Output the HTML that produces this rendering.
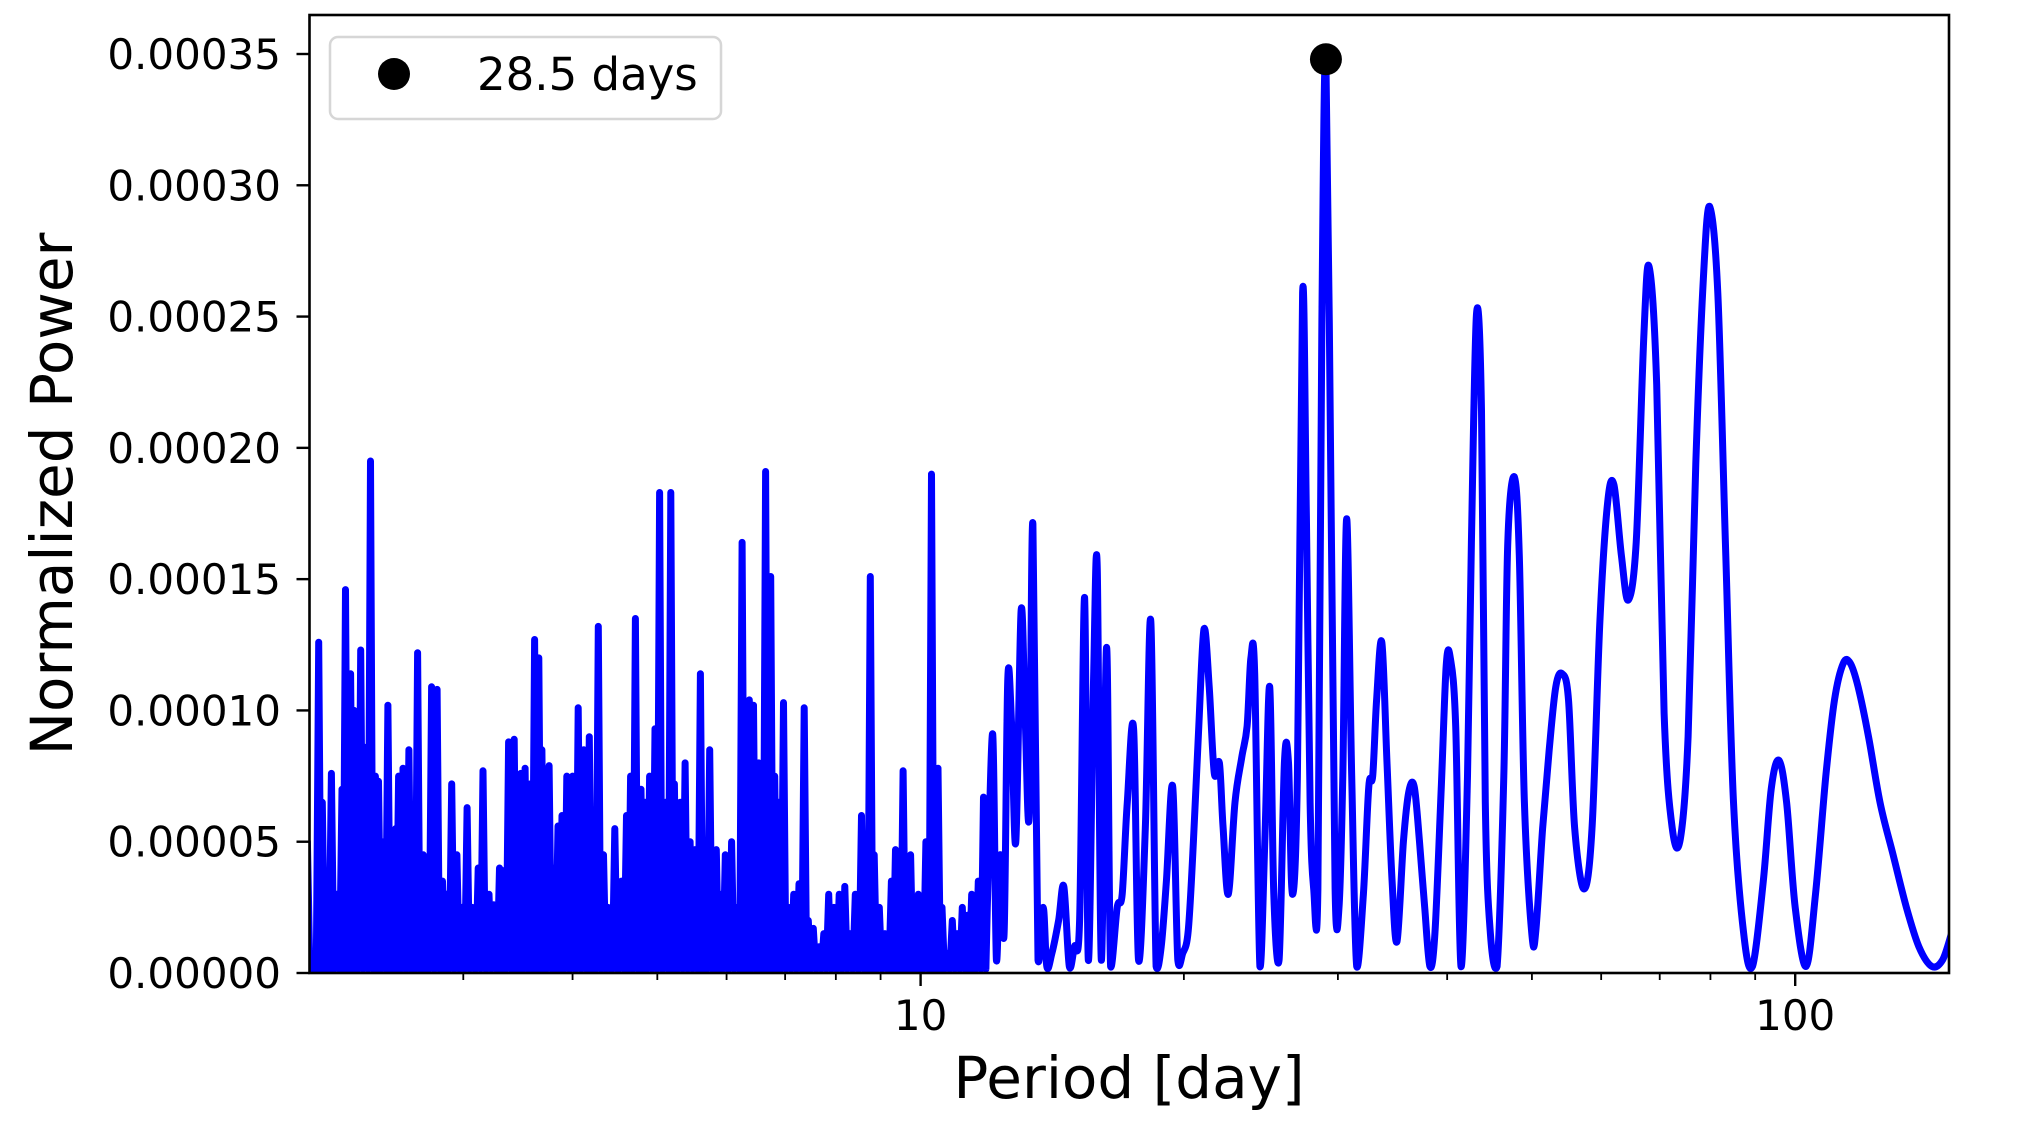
<!DOCTYPE html>
<html><head><meta charset="utf-8"><title>Periodogram</title>
<style>
html,body{margin:0;padding:0;background:#fff;}
svg{display:block;font-family:"DejaVu Sans","Liberation Sans",sans-serif;}
</style></head>
<body>
<svg id="chart" width="2032" height="1124" viewBox="0 0 2032 1124" xmlns="http://www.w3.org/2000/svg">
<defs><clipPath id="plotclip"><rect x="309.5" y="15" width="1639.5" height="958"/></clipPath></defs>
<rect x="0" y="0" width="2032" height="1124" fill="#fff"/>
<g id="grid-ticks"></g>
<g clip-path="url(#plotclip)"><path id="series" fill="none" stroke="#0000ff" stroke-width="7" stroke-linejoin="round" stroke-linecap="round"/></g>
<circle id="peakdot" r="16" fill="#000"/>
<rect x="309.5" y="15" width="1639.5" height="958" fill="none" stroke="#000" stroke-width="2.6"/>
<g>
<rect x="330" y="37" width="391" height="82" rx="8" fill="#fff" fill-opacity="0.8" stroke="#d6d6d6" stroke-width="2.5"/>
<circle cx="394" cy="74" r="16" fill="#000"/>
<text x="477" y="90" font-size="45" fill="#000">28.5 days</text>
</g>
<text x="1129" y="1098" font-size="58" text-anchor="middle" fill="#000">Period [day]</text>
<text x="72" y="494" font-size="58" text-anchor="middle" fill="#000" transform="rotate(-90 72 494)">Normalized Power</text>
</svg>
<script>
const yTickValues = [0, 0.00005, 0.0001, 0.00015, 0.0002, 0.00025, 0.0003, 0.00035];
const yTickLabels = ["0.00000","0.00005","0.00010","0.00015","0.00020","0.00025","0.00030","0.00035"];
const xMajorTicks = [10, 100];
const xMajorLabels = ["10", "100"];
const xMinorTicks = [2,3,4,5,6,7,8,9,20,30,40,50,60,70,80,90];
const peakPeriod = [29.07];
const peakPower = [0.000348];
// dense region (drawn as spikes), power in units of 1e-5
const densePeriods = [1.99,2.05,2.07,2.10,2.12,2.15,2.18,2.20,2.23,2.25,2.26,2.29,2.32,2.35,2.38,2.40,2.43,2.46,2.48,2.51,2.53,2.56,2.60,2.63,2.66,2.70,2.72,2.76,2.80,2.84,2.87,2.91,2.95,2.99,3.03,3.07,3.12,3.16,3.21,3.25,3.30,3.33,3.38,3.43,3.45,3.49,3.53,3.58,3.62,3.66,3.69,3.76,3.81,3.85,3.89,3.94,4.00,4.06,4.12,4.18,4.22,4.28,4.34,4.39,4.47,4.55,4.61,4.66,4.72,4.79,4.84,4.90,4.97,5.03,5.11,5.18,5.23,5.31,5.38,5.45,5.52,5.60,5.65,5.74,5.84,5.90,5.98,6.08,6.16,6.25,6.31,6.37,6.44,6.53,6.58,6.65,6.74,6.81,6.88,6.97,7.06,7.16,7.26,7.36,7.44,7.54,7.65,7.75,7.85,7.96,8.07,8.19,8.30,8.42,8.56,8.67,8.76,8.85,8.97,9.10,9.26,9.36,9.45,9.55,9.65,9.74,9.84,9.94,10.0,10.14,10.29,10.40,10.47,10.58,10.72,10.87,11.01,11.16,11.31,11.44,11.64,11.80];
const densePowers = [5.0,12.6,6.5,2.5,7.6,3.0,7.0,14.6,11.4,10.0,7.0,12.3,8.6,19.5,7.5,7.3,5.0,10.2,3.0,5.5,7.5,7.8,8.5,5.5,12.2,4.5,4.0,10.9,10.8,3.5,3.0,7.2,4.5,2.5,6.3,2.5,4.0,7.7,3.0,2.6,4.0,3.9,8.8,8.9,6.0,7.6,7.8,7.2,12.7,12.0,8.5,7.9,4.0,5.6,6.0,7.5,7.5,10.1,8.5,9.0,6.2,13.2,4.5,2.5,5.5,3.5,6.0,7.5,13.5,7.0,6.5,7.5,9.3,18.3,6.5,18.3,7.2,6.5,8.0,5.0,4.7,11.4,4.5,8.5,4.7,3.0,4.5,5.0,2.5,16.4,5.0,10.4,10.2,8.0,6.5,19.1,15.1,7.5,6.5,10.3,2.5,3.0,3.4,10.1,2.0,1.7,1.0,1.5,3.0,2.5,3.0,3.3,1.5,3.0,6.0,0.5,15.1,4.5,2.5,1.5,3.5,4.7,3.0,7.7,2.0,4.5,2.5,3.0,1.0,5.0,19.0,1.5,7.8,2.5,0.75,2.0,1.5,2.5,2.2,3.0,3.5,6.7];
// smooth region (drawn as a connected curve), power in units of 1e-5
const smoothPeriods = [11.92,12.09,12.21,12.33,12.46,12.58,12.71,12.85,13.03,13.17,13.31,13.44,13.62,13.81,13.94,14.13,14.38,14.58,14.79,14.99,15.20,15.40,15.55,15.76,15.92,16.09,16.32,16.49,16.78,17.00,17.23,17.52,17.75,18.07,18.33,18.59,18.84,19.10,19.42,19.68,19.94,20.23,20.51,20.80,21.09,21.38,21.67,21.96,22.17,22.48,22.88,23.29,23.62,23.86,24.10,24.43,24.75,25.07,25.34,25.70,26.06,26.34,26.61,26.97,27.34,27.61,27.88,28.15,28.46,28.76,29.07,29.48,29.78,30.09,30.39,30.70,31.11,31.52,32.08,32.54,32.88,33.22,33.68,34.14,34.60,35.05,35.65,36.16,36.68,37.19,37.70,38.22,38.73,39.38,39.90,40.33,40.91,41.48,42.20,42.64,43.21,43.79,44.22,44.82,45.62,46.43,46.92,47.73,48.37,49.02,49.99,50.52,51.43,52.33,53.24,54.14,55.05,55.96,57.35,58.57,59.80,61.02,62.04,63.28,64.42,65.79,67.16,68.07,69.44,70.82,72.36,73.89,75.43,76.97,78.51,79.83,81.56,83.29,85.01,87.31,89.36,91.94,93.87,95.81,97.75,100,102.9,105.5,108.4,110.9,113.5,115.6,118.0,121.3,125.0,129.4,134.0,138.5,143.3,147.4,150.9];
const smoothPowers = [2.5,9.1,0.5,4.5,1.5,11.2,9.4,5.0,13.8,9.7,6.0,17.1,0.5,2.5,0.25,0.75,2.0,3.3,0.25,1.0,2.0,14.3,0.5,10.9,15.5,0.5,12.4,0.25,2.5,3.0,6.5,9.3,0.5,5.5,13.4,0.25,1.0,3.5,7.1,0.5,0.75,1.6,5.0,9.4,13.1,10.9,7.6,8.0,5.6,3.0,6.5,8.2,9.4,12.0,11.4,0.25,5.0,10.9,3.0,0.5,8.0,8.0,3.0,7.5,25.9,17.4,6.5,3.2,3.2,24.9,34.8,17.4,3.2,2.5,7.5,17.3,7.5,0.25,3.0,7.1,7.5,10.4,12.6,8.0,3.5,1.2,5.0,6.9,7.1,5.0,2.5,0.25,1.5,7.0,11.7,12.0,9.4,0.25,7.5,16.4,25.1,21.4,6.5,1.5,0.25,7.5,16.4,18.9,15.9,6.5,1.5,1.6,5.5,8.5,10.9,11.4,10.4,5.5,3.2,5.5,13.4,17.9,18.6,15.9,14.2,16.4,24.4,26.9,22.4,9.9,5.5,5.1,9.0,19.4,26.4,29.2,25.9,15.9,6.5,1.5,0.25,3.5,7.0,8.1,6.5,2.5,0.25,3.0,7.5,10.4,11.8,11.8,10.9,9.0,6.5,4.5,2.5,1.0,0.25,0.5,1.5];

const AX = {left:309.5, right:1949, top:15, bottom:973, x10:920.6, decade:874.6, yTop:0.00035, yTopPx:54};
function xScale(p){ return AX.x10 + AX.decade*(Math.log10(p)-1); }
function yScale(v){ return AX.bottom - v/AX.yTop*(AX.bottom-AX.yTopPx); }
const NS = "http://www.w3.org/2000/svg";
const ticks = document.getElementById('grid-ticks');
function mk(tag, attrs){ const e=document.createElementNS(NS,tag); for(const k in attrs) e.setAttribute(k,attrs[k]); return e; }

yTickValues.forEach((v,i)=>{
  const y=yScale(v);
  const t=mk('line',{x1:AX.left-13,x2:AX.left,y1:y,y2:y,stroke:'#000','stroke-width':2.4});
  
  
  ticks.appendChild(t);
  const l=mk('text',{x:281,y:y+15,'font-size':42,'text-anchor':'end',fill:'#000'});
  l.textContent=yTickLabels[i];
  
  
  ticks.appendChild(l);
});
xMajorTicks.forEach((p,i)=>{
  const x=xScale(p);
  const t=mk('line',{x1:x,x2:x,y1:AX.bottom,y2:AX.bottom+13,stroke:'#000','stroke-width':2.4});
  
  
  ticks.appendChild(t);
  const l=mk('text',{x:x,y:1030,'font-size':42,'text-anchor':'middle',fill:'#000'});
  l.textContent=xMajorLabels[i];
  
  
  ticks.appendChild(l);
});
xMinorTicks.forEach(p=>{
  const x=xScale(p);
  if(x<AX.left||x>AX.right) return;
  const t=mk('line',{x1:x,x2:x,y1:AX.bottom,y2:AX.bottom+7,stroke:'#000','stroke-width':1.8});
  
  
  ticks.appendChild(t);
});

let d='';
const base=yScale(0.0000015);
const n1=Math.min(densePeriods.length,densePowers.length);
for(let i=0;i<n1;i++){
  const x=xScale(densePeriods[i]), y=yScale(densePowers[i]*1e-5);
  d += (i===0?'M':'L')+(x-2.4).toFixed(1)+','+base.toFixed(1)+'L'+x.toFixed(1)+','+y.toFixed(1)+'L'+(x+2.4).toFixed(1)+','+base.toFixed(1);
}
const n2=Math.min(smoothPeriods.length,smoothPowers.length);
const pts=[];
for(let i=0;i<n2;i++) pts.push([xScale(smoothPeriods[i]), yScale(smoothPowers[i]*1e-5)]);
if(pts.length){
  d += 'L'+pts[0][0].toFixed(1)+','+pts[0][1].toFixed(1);
  const lim=yScale(0)+1;
  for(let i=0;i<pts.length-1;i++){
    const p0=pts[Math.max(0,i-1)], p1=pts[i], p2=pts[i+1], p3=pts[Math.min(pts.length-1,i+2)];
    const c1x=p1[0]+(p2[0]-p0[0])/6, c1y=Math.min(lim,p1[1]+(p2[1]-p0[1])/6);
    const c2x=p2[0]-(p3[0]-p1[0])/6, c2y=Math.min(lim,p2[1]-(p3[1]-p1[1])/6);
    d += 'C'+c1x.toFixed(1)+','+c1y.toFixed(1)+' '+c2x.toFixed(1)+','+c2y.toFixed(1)+' '+p2[0].toFixed(1)+','+p2[1].toFixed(1);
  }
}
document.getElementById('series').setAttribute('d',d);
const dot=document.getElementById('peakdot');
dot.setAttribute('cx',xScale(peakPeriod[0]));
dot.setAttribute('cy',yScale(peakPower[0]));
</script>
</body></html>
